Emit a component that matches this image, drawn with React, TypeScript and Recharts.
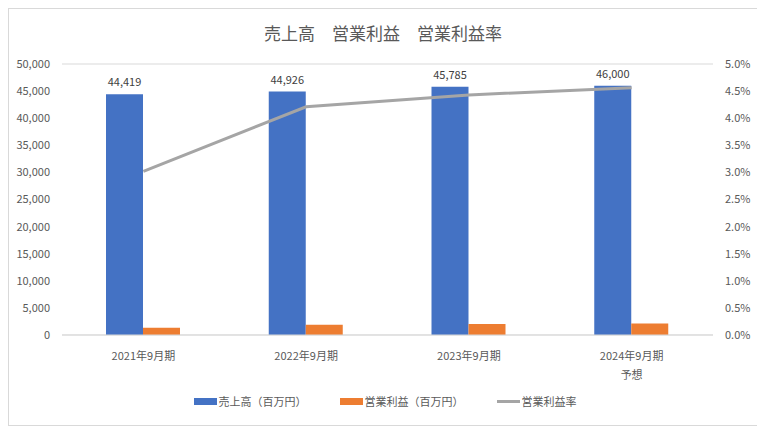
import { ComposedChart, Bar, Line, XAxis, YAxis, CartesianGrid, Legend, LabelList } from 'recharts'

const periods = ['2021年9月期', '2022年9月期', '2023年9月期', '2024年9月期\n予想']
const sales = [44419, 44926, 45785, 46000]
const operatingIncome = [1340, 1890, 2030, 2100]
const operatingMargin = [3.02, 4.21, 4.43, 4.56]
const leftTicks = [0, 5000, 10000, 15000, 20000, 25000, 30000, 35000, 40000, 45000, 50000]
const rightTicks = [0, 0.5, 1, 1.5, 2, 2.5, 3, 3.5, 4, 4.5, 5]

const data = periods.map((p, i) => ({
  period: p,
  sales: sales[i],
  income: operatingIncome[i],
  margin: operatingMargin[i],
}))

const FONT = '"Noto Sans CJK JP", "Noto Sans", sans-serif'
const TEXT = '#595959'

function PeriodTick({ x, y, payload }: any) {
  const lines = String(payload.value).split('\n')
  return (
    <text x={x} y={y} textAnchor="middle" fill={TEXT} fontSize={11} fontFamily={FONT}>
      {lines.map((l, i) => (
        <tspan key={i} x={x} dy={i === 0 ? 17 : 19}>{l}</tspan>
      ))}
    </text>
  )
}

function LegendContent() {
  const items = [
    { name: '売上高（百万円）', color: '#4472C4', type: 'bar' },
    { name: '営業利益（百万円）', color: '#ED7D31', type: 'bar' },
    { name: '営業利益率', color: '#A5A5A5', type: 'line' },
  ]
  return (
    <div style={{ display: 'flex', justifyContent: 'center', fontFamily: FONT, fontSize: 11, color: TEXT }}>
      {items.map((it, i) => (
        <div key={it.name} style={{ display: 'flex', alignItems: 'center', marginRight: i < items.length - 1 ? 33 : 0 }}>
          <span
            style={{
              display: 'inline-block',
              width: 23,
              height: it.type === 'bar' ? 7 : 3,
              background: it.color,
              marginRight: 2,
            }}
          />
          <span>{it.name}</span>
        </div>
      ))}
    </div>
  )
}

export default function App() {
  return (
    <div
      style={{
        position: 'relative',
        width: 748,
        height: 416,
        border: '1px solid #d9d9d9',
        background: '#fff',
        fontFamily: FONT,
      }}
    >
      <div
        style={{
          position: 'absolute',
          top: 11,
          left: 0,
          width: '100%',
          textAlign: 'center',
          fontSize: 17,
          color: TEXT,
          zIndex: 1,
        }}
      >
        売上高　営業利益　営業利益率
      </div>
      <ComposedChart
        width={748}
        height={416}
        data={data}
        margin={{ top: 55, right: 4, bottom: 30, left: 8 }}
        barGap={0}
      >
        <CartesianGrid vertical={false} stroke="#d9d9d9" />
        <XAxis
          dataKey="period"
          tick={<PeriodTick />}
          tickLine={false}
          axisLine={{ stroke: '#d9d9d9' }}
          height={40}
          interval={0}
        />
        <YAxis
          yAxisId="left"
          domain={[0, 50000]}
          ticks={leftTicks}
          width={45}
          axisLine={false}
          tickLine={false}
          tickMargin={6}
          tick={{ fill: TEXT, fontSize: 11, fontFamily: FONT }}
          tickFormatter={(v: number) => v.toLocaleString('en-US')}
        />
        <YAxis
          yAxisId="right"
          orientation="right"
          domain={[0, 5]}
          ticks={rightTicks}
          width={40}
          axisLine={false}
          tickLine={false}
          tickMargin={6}
          tick={{ fill: TEXT, fontSize: 11, fontFamily: FONT, textAnchor: 'start' }}
          tickFormatter={(v: number) => `${v.toFixed(1)}%`}
        />
        <Legend verticalAlign="bottom" height={20} wrapperStyle={{ bottom: 12 }} content={<LegendContent />} />
        <Bar yAxisId="left" dataKey="sales" name="売上高（百万円）" fill="#4472C4" barSize={37} isAnimationActive={false}>
          <LabelList
            dataKey="sales"
            position="top"
            offset={8}
            fill="#404040"
            fontSize={11}
            fontFamily={FONT}
            formatter={(v: any) => Number(v).toLocaleString('en-US')}
          />
        </Bar>
        <Bar yAxisId="left" dataKey="income" name="営業利益（百万円）" fill="#ED7D31" barSize={37} isAnimationActive={false} />
        <Line
          yAxisId="right"
          dataKey="margin"
          name="営業利益率"
          stroke="#A5A5A5"
          strokeWidth={3}
          dot={false}
          type="linear"
          isAnimationActive={false}
        />
      </ComposedChart>
    </div>
  )
}
